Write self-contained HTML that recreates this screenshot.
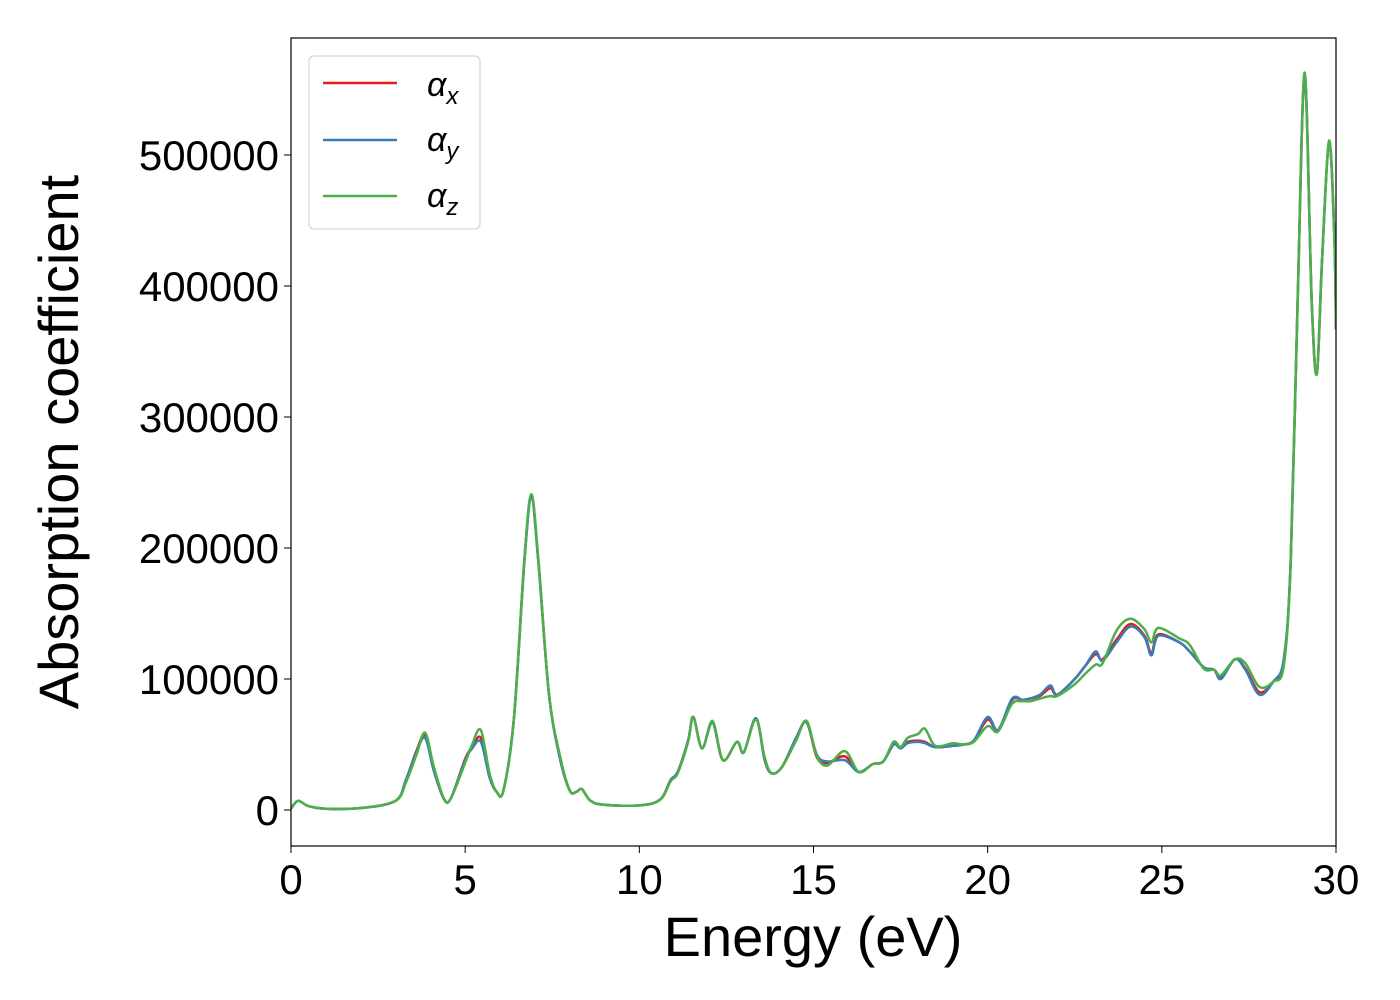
<!DOCTYPE html>
<html><head><meta charset="utf-8"><style>
body{margin:0;background:#fff}
svg{display:block;font-family:"Liberation Sans","DejaVu Sans",sans-serif}
</style></head><body>
<svg id="chart" width="1400" height="1000">
<rect width="1400" height="1000" fill="#fff"/>
<g id="plot"></g>
<rect x="291" y="38" width="1045" height="808" fill="none" stroke="#000" stroke-width="1.2"/>
<g id="axes"></g>
<text x="813" y="956" font-size="56" text-anchor="middle">Energy (eV)</text>
<text transform="translate(78,442) rotate(-90)" font-size="56" text-anchor="middle">Absorption coefficient</text>
<g>
<rect x="309" y="56" width="171" height="173" rx="5" fill="#fff" fill-opacity="0.8" stroke="#ccc"/>
<g><line x1="323" y1="83" x2="397" y2="83" stroke="#e41a1c" stroke-width="2.5"/><text x="427" y="96" font-size="34" font-style="italic">α<tspan font-size="24" dy="8">x</tspan></text></g>
<g><line x1="323" y1="140" x2="397" y2="140" stroke="#377eb8" stroke-width="2.5"/><text x="427" y="151" font-size="34" font-style="italic">α<tspan font-size="24" dy="8">y</tspan></text></g>
<g><line x1="323" y1="196" x2="397" y2="196" stroke="#4daf4a" stroke-width="2.5"/><text x="427" y="207" font-size="34" font-style="italic">α<tspan font-size="24" dy="8">z</tspan></text></g>
</g>
</svg>
<script>
const energies=[0,0.2,0.5,1,2,3,3.3,3.6,3.85,4.1,4.4,4.6,5.0,5.2,5.45,5.7,5.9,6.1,6.4,6.7,6.9,7.1,7.4,7.7,8.0,8.2,8.35,8.6,9,10,10.6,10.9,11.1,11.4,11.55,11.8,12.1,12.4,12.8,13.0,13.35,13.6,13.8,14.1,14.5,14.8,15.1,15.4,15.9,16.3,16.7,17.0,17.3,17.5,17.7,18.0,18.2,18.5,19,19.3,19.6,20.0,20.3,20.7,21.0,21.2,21.5,21.8,22.0,22.5,22.8,23.1,23.3,23.7,24.1,24.5,24.7,24.9,25.5,25.8,26.2,26.5,26.7,27.1,27.4,27.8,28.2,28.5,28.7,28.9,29.1,29.3,29.45,29.6,29.8,29.95,30];
const alphaY=[1000,7000,3000,1000,1500,7000,23000,44000,55000,30000,8000,9500,38000,47000,52000,25000,14000,15000,70000,190000,238000,190000,90000,42000,15000,14000,16000,7000,4000,3500,8000,23000,29000,53000,71000,47000,67000,38000,52000,44000,70000,38000,28000,33000,55000,67000,42000,37000,38000,29000,35000,37000,50000,47000,51000,52000,51000,48000,49000,50000,53000,71000,61000,85000,84000,85000,88000,95000,88000,100000,110000,121000,114000,128000,140000,132000,118000,133000,128000,121000,109000,107000,100000,115000,107000,88000,98000,115000,190000,390000,560000,390000,333000,420000,510000,440000,367000];
const alphaX=[1000,7000,3000,1000,1500,7000,23000,45000,57000,30000,8000,9500,39000,48000,55000,25000,14000,15000,70000,190000,239000,190000,90000,42000,15000,14000,16000,7000,4000,3500,8000,23000,29000,53000,71000,47000,67000,38000,52000,44000,70000,38000,28000,33000,55000,67000,40000,36000,41000,29000,35000,37000,50000,48000,52000,53000,52000,48000,49000,50000,53000,69000,61000,84000,84000,85000,87000,93000,88000,100000,110000,119000,115000,130000,142000,133000,120000,134000,128000,121000,109000,107000,101000,115000,108000,90000,98000,114000,190000,390000,561000,390000,333000,420000,510000,440000,367000];
const alphaZ=[1000,7000,3000,1000,1500,7000,21000,42000,59000,33000,8000,9500,36000,50000,61000,28000,14000,15000,70000,192000,241000,192000,90000,44000,15000,14000,16000,7000,4000,3500,8000,22000,28000,52000,71000,47000,68000,38000,52000,44000,69000,40000,28000,33000,53000,68000,41000,34000,45000,29000,35000,37000,52000,48000,55000,58000,62000,49000,51000,50000,52000,64000,60000,81000,83000,83000,85000,87000,87000,96000,104000,111000,112000,137000,146000,138000,128000,139000,131000,126000,108000,107000,103000,115000,112000,94000,98000,110000,190000,390000,563000,390000,333000,420000,511000,440000,367000];
const xTicks=[0,5,10,15,20,25,30];
const yTicks=[0,100000,200000,300000,400000,500000];
const X0=291,X1=1336,Y0=810,YS=655/500000;
function xs(e){return X0+(X1-X0)*e/30;}
function ys(v){return Y0-v*YS;}
const NS="http://www.w3.org/2000/svg";
function pathFor(vals){
  const p=energies.map((e,i)=>[xs(e),ys(vals[i])]);
  let d="M"+p[0][0]+","+p[0][1];
  for(let i=0;i<p.length-1;i++){
    const a=p[Math.max(i-1,0)],b=p[i],c=p[i+1],n=p[Math.min(i+2,p.length-1)];
    const c1=[b[0]+(c[0]-a[0])/6,b[1]+(c[1]-a[1])/6],c2=[c[0]-(n[0]-b[0])/6,c[1]-(n[1]-b[1])/6];
    d+=" C"+c1.join(",")+" "+c2.join(",")+" "+c.join(",");
  }
  return d;
}
const plot=document.getElementById("plot");
const clip=document.createElementNS(NS,"clipPath");clip.id="clp";
const cr=document.createElementNS(NS,"rect");cr.setAttribute("x",X0);cr.setAttribute("y",38);cr.setAttribute("width",X1-X0);cr.setAttribute("height",808);
clip.appendChild(cr);plot.appendChild(clip);
[[alphaX,"#e41a1c","series-alpha-x"],[alphaY,"#377eb8","series-alpha-y"],[alphaZ,"#4daf4a","series-alpha-z"]].forEach(s=>{
  const el=document.createElementNS(NS,"path");
  el.setAttribute("d",pathFor(s[0]));el.setAttribute("fill","none");el.setAttribute("stroke",s[1]);el.setAttribute("stroke-width","2.5");el.setAttribute("clip-path","url(#clp)");
  
  
  plot.appendChild(el);
});
const axes=document.getElementById("axes");
xTicks.forEach(t=>{
  const l=document.createElementNS(NS,"line");
  l.setAttribute("x1",xs(t));l.setAttribute("x2",xs(t));l.setAttribute("y1",846);l.setAttribute("y2",853);l.setAttribute("stroke","#000");
  
  
  axes.appendChild(l);
  const tx=document.createElementNS(NS,"text");
  tx.setAttribute("x",xs(t));tx.setAttribute("y",894);tx.setAttribute("font-size","42");tx.setAttribute("text-anchor","middle");tx.textContent=t;
  
  
  axes.appendChild(tx);
});
yTicks.forEach(t=>{
  const l=document.createElementNS(NS,"line");
  l.setAttribute("x1",284);l.setAttribute("x2",291);l.setAttribute("y1",ys(t));l.setAttribute("y2",ys(t));l.setAttribute("stroke","#000");
  
  
  axes.appendChild(l);
  const tx=document.createElementNS(NS,"text");
  tx.setAttribute("x",279);tx.setAttribute("y",ys(t)+15);tx.setAttribute("font-size","42");tx.setAttribute("text-anchor","end");tx.textContent=t;
  
  
  axes.appendChild(tx);
});
</script>
</body></html>
